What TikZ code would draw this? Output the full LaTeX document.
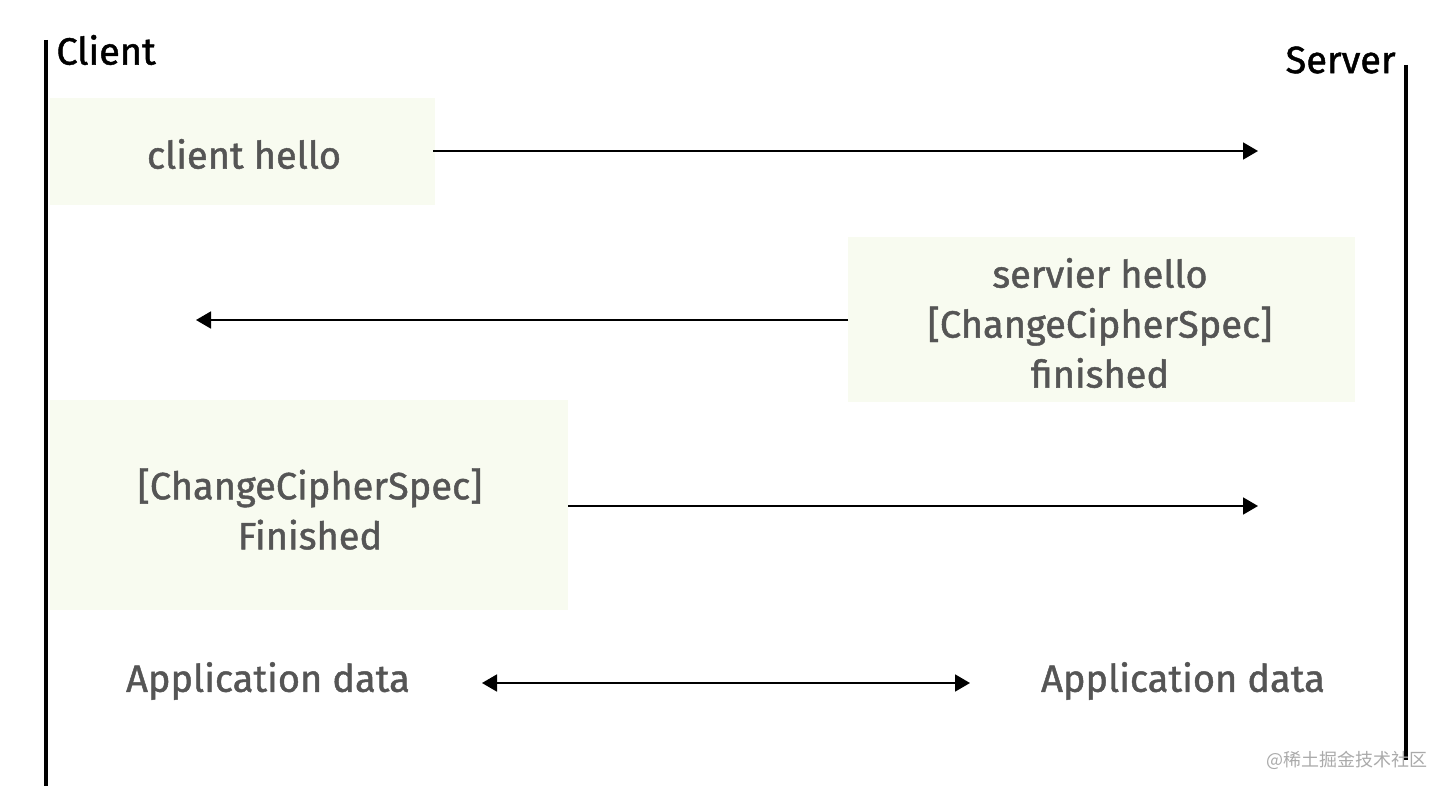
\documentclass[tikz,border=0pt]{standalone}
\usepackage{fontspec}
\setmainfont{Fira Sans}
\newfontfamily\boldish[FakeBold=1.2]{Fira Sans}
\newfontfamily\cjk{Noto Sans CJK SC}
\usetikzlibrary{arrows.meta}
\definecolor{boxfill}{RGB}{248,251,240}
\definecolor{txtgray}{RGB}{85,85,85}
\definecolor{wmgray}{RGB}{170,170,170}
\tikzset{
  lifeline/.style={line width=1.6pt, black},
  msgbox/.style={fill=boxfill, draw=none},
  msgtext/.style={text=txtgray, font=\boldish\fontsize{19}{25}\selectfont, align=center, inner sep=0pt},
  party/.style={text=black, font=\boldish\fontsize{19}{23}\selectfont, inner sep=0pt},
  msg/.style={line width=0.9pt, -{Triangle[length=7.5pt,width=8.5pt]}},
  dmsg/.style={line width=0.9pt, {Triangle[length=7.5pt,width=8.5pt]}-{Triangle[length=7.5pt,width=8.5pt]}},
}
\begin{document}
\begin{tikzpicture}[x=0.5pt,y=-0.5pt]
\useasboundingbox (0,0) rectangle (1450,792);
% lifelines
\coordinate (c1) at (46,40);
\coordinate (c2) at (46,786);
\coordinate (s1) at (1406,65);
\coordinate (s2) at (1406,760);
\draw[lifeline] (c1) -- (c2);
\draw[lifeline] (s1) -- (s2);
\node[party, anchor=west] (client) at (56,50) {Client};
\node[party, anchor=east] (server) at (1396,60) {Server};
% boxes
\fill[msgbox] (50,98) rectangle (435,205);
\fill[msgbox] (848,237) rectangle (1355,402);
\fill[msgbox] (50,400) rectangle (568,610);
\node[msgtext] (t1) at (244,154) {client hello};
\node[msgtext] (t2) at (1100,323) {servier hello\\{[}ChangeCipherSpec{]}\\finished};
\node[msgtext] (t3) at (310,509) {{[}ChangeCipherSpec{]}\\Finished};
\node[msgtext] (a1) at (268,681) {Application data};
\node[msgtext] (a2) at (1183,681) {Application data};
% arrows
\coordinate (m1s) at (433,151);
\coordinate (m1e) at (1258,151);
\coordinate (m2s) at (848,320);
\coordinate (m2e) at (196,320);
\coordinate (m3s) at (568,506);
\coordinate (m3e) at (1258,506);
\coordinate (m4s) at (482,683);
\coordinate (m4e) at (970,683);
\draw[msg] (m1s) -- (m1e);
\draw[msg] (m2s) -- (m2e);
\draw[msg] (m3s) -- (m3e);
\draw[dmsg] (m4s) -- (m4e);
% watermark
\node[text=wmgray, font=\cjk\fontsize{9}{11}\selectfont, anchor=east, inner sep=0pt] (wm) at (1428,760) {@稀土掘金技术社区};
\end{tikzpicture}
\end{document}
